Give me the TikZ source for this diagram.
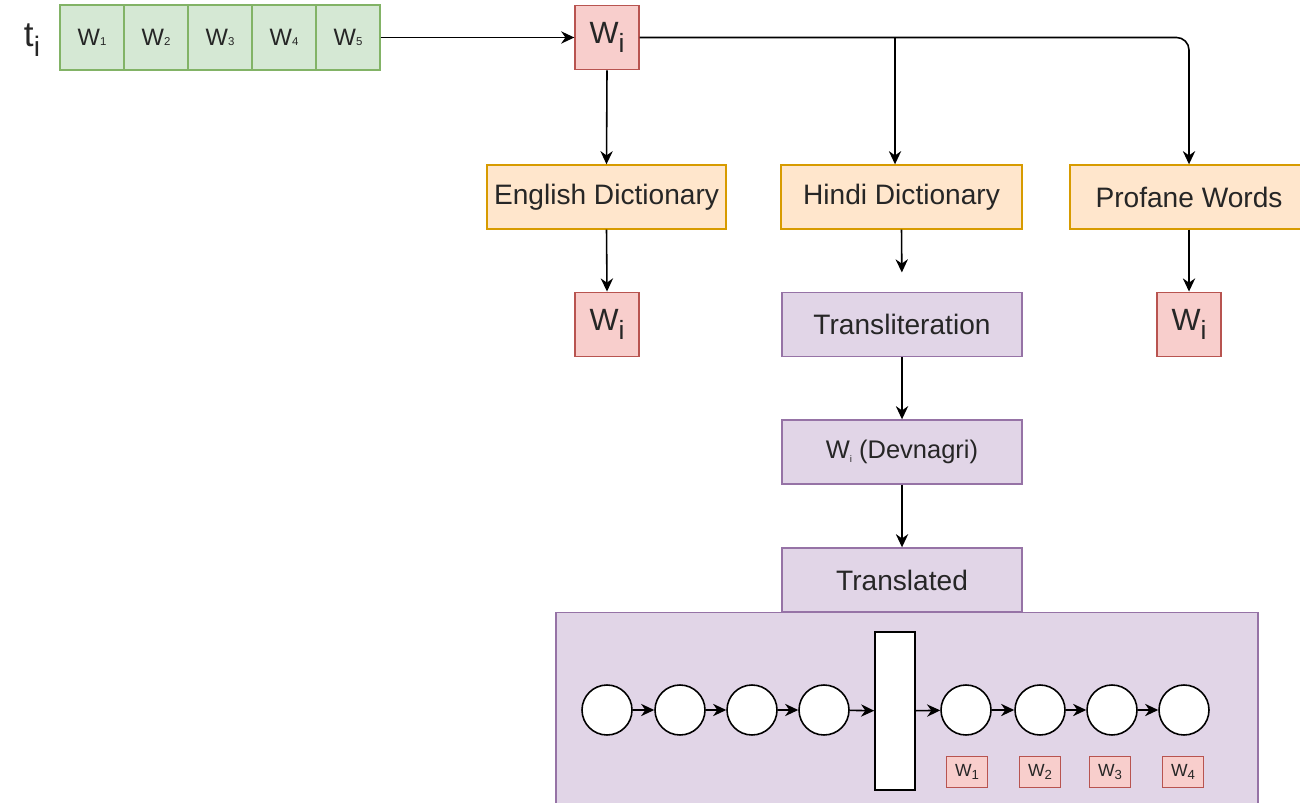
\documentclass[tikz,border=0pt]{standalone}
\usepackage{fontspec}
\setmainfont{Liberation Sans}
\usetikzlibrary{arrows.meta}
\definecolor{gfill}{HTML}{D5E8D4}
\definecolor{gline}{HTML}{82B366}
\definecolor{rfill}{HTML}{F8CECC}
\definecolor{rline}{HTML}{B85450}
\definecolor{ofill}{HTML}{FFE6CC}
\definecolor{oline}{HTML}{D79B00}
\definecolor{pfill}{HTML}{E1D5E7}
\definecolor{pline}{HTML}{9673A6}
\definecolor{txt}{HTML}{262626}
\newcommand{\bigwi}{W\raisebox{-5pt}{\fontsize{15}{15}\selectfont i}}
\newcommand{\cellw}[1]{W{\fontsize{6.5}{6.5}\selectfont #1}}
\newcommand{\smallw}[1]{W\raisebox{-2pt}{\fontsize{7.5}{7.5}\selectfont #1}}
\begin{document}
\begin{tikzpicture}[x=0.02cm,y=-0.02cm,
  every node/.style={text=txt},
  box/.style={draw, line width=0.8pt, inner sep=0pt, rectangle},
  gbox/.style={box, fill=gfill, draw=gline, minimum width=1.28cm, minimum height=1.30cm, font=\fontsize{13.5}{16}\selectfont},
  rbox/.style={box, fill=rfill, draw=rline, minimum width=1.28cm, minimum height=1.29cm, font=\fontsize{17.5}{20}\selectfont},
  obox/.style={box, fill=ofill, draw=oline, minimum height=1.28cm, font=\fontsize{16}{19}\selectfont},
  pbox/.style={box, fill=pfill, draw=pline, minimum width=4.8cm, minimum height=1.28cm, font=\fontsize{16}{19}\selectfont},
  cell/.style={circle, draw=black, fill=white, line width=0.9pt, minimum size=1.0cm, inner sep=0pt},
  sbox/.style={box, fill=rfill, draw=rline, minimum width=0.82cm, minimum height=0.62cm, font=\fontsize{10}{11}\selectfont},
  arr/.style={draw=black, line width=0.9pt, -{Stealth[length=7.5pt,width=7pt]}}
]
\useasboundingbox (0,0) rectangle (1300,803);
% t_i
\node[anchor=center, font=\fontsize{20}{22}\selectfont] (ti) at (32,40) {t\raisebox{-6pt}{\fontsize{16}{16}\selectfont i}};
% green cells
\node[gbox] (c1) at (92,37.5) {\cellw{1}};
\node[gbox] (c2) at (156,37.5) {\cellw{2}};
\node[gbox] (c3) at (220,37.5) {\cellw{3}};
\node[gbox] (c4) at (284,37.5) {\cellw{4}};
\node[gbox] (c5) at (348,37.5) {\cellw{5}};
% top w_i
\node[rbox] (wtop) at (607,37.5) {\bigwi};
% dictionaries
\node[obox, minimum width=4.78cm] (eng) at (606.5,197) {English Dictionary};
\node[obox, minimum width=4.82cm] (hin) at (901.5,197) {Hindi Dictionary};
\node[obox, minimum width=4.76cm] (prof) at (1189,197) {Profane Words};
% outputs
\node[rbox] (weng) at (607,324.5) {\bigwi};
\node[rbox] (wprof) at (1189,324.5) {\bigwi};
\node[pbox] (trans) at (902,324.5) {Transliteration};
\node[pbox] (dev) at (902,452) {\fontsize{14.5}{17}\selectfont W\raisebox{-2pt}{\fontsize{5.5}{5.5}\selectfont i} (Devnagri)};
% big box
\node[box, fill=pfill, draw=pline, minimum width=14.04cm, minimum height=4.3cm] (big) at (907,720) {};
\node[pbox] (transl) at (902,580) {Translated};
% network
\node[cell] (k1) at (607,710) {};
\node[cell] (k2) at (680,710) {};
\node[cell] (k3) at (752,710) {};
\node[cell] (k4) at (824,710) {};
\node[box, fill=white, draw=black, line width=0.9pt, minimum width=0.8cm, minimum height=3.16cm] (bar) at (895,711) {};
\node[cell] (k5) at (966,710) {};
\node[cell] (k6) at (1040,710) {};
\node[cell] (k7) at (1112,710) {};
\node[cell] (k8) at (1184,710) {};
\node[sbox] (s1) at (967,772) {\smallw{1}};
\node[sbox] (s2) at (1040,772) {\smallw{2}};
\node[sbox] (s3) at (1110,772) {\smallw{3}};
\node[sbox] (s4) at (1183,772) {\smallw{4}};
% connectors
\draw[arr] (c5.east) -- (wtop.west);
\draw[arr, rounded corners=0.25cm] (wtop.east) -| (prof.north);
\coordinate (br) at (895,37.5);
\draw[arr] (br) -- (br |- hin.north);
\draw[arr] (wtop.south) -- (eng.north);
\draw[arr] (eng.south) -- (weng.north);
\draw[arr] (prof.south) -- (wprof.north);
\draw[arr, shorten >=11pt] (hin.south) -- (trans.north);
\draw[arr] (trans.south) -- (dev.north);
\draw[arr] (dev.south) -- (transl.north);
\draw[arr] (k1) -- (k2);
\draw[arr] (k2) -- (k3);
\draw[arr] (k3) -- (k4);
\draw[arr] (k4) -- (bar);
\draw[arr] (bar) -- (k5);
\draw[arr] (k5) -- (k6);
\draw[arr] (k6) -- (k7);
\draw[arr] (k7) -- (k8);
\end{tikzpicture}
\end{document}
